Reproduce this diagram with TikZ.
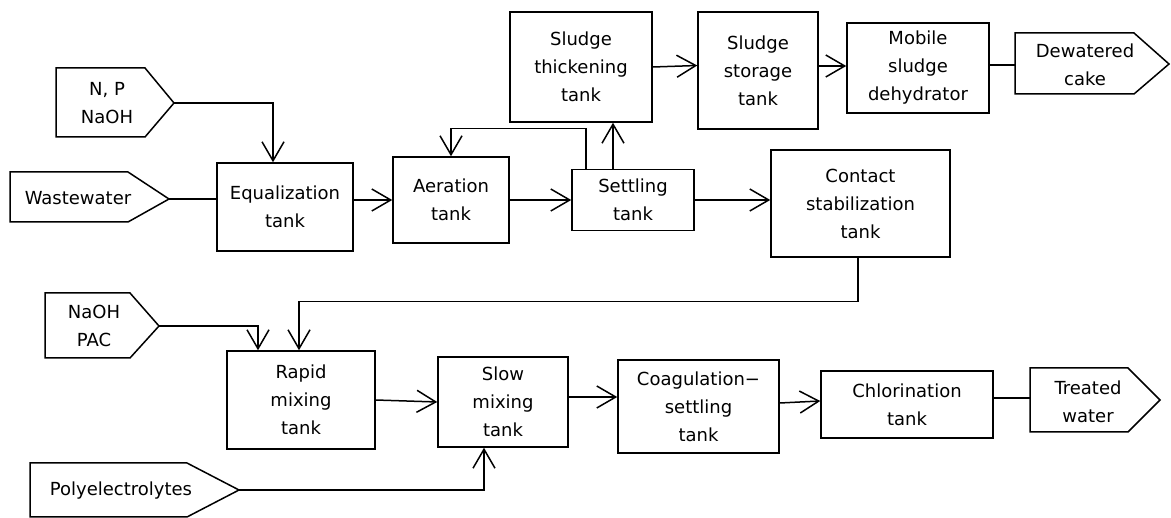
\documentclass[tikz,border=0pt]{standalone}
\usepackage{fontspec}
\setmainfont{DejaVu Sans}
\usetikzlibrary{arrows.meta}
\begin{document}
\begin{tikzpicture}[x=1pt,y=-1pt,
  every node/.style={font=\fontsize{18}{28}\selectfont, align=center, inner sep=0pt},
  tankbox/.style n args={2}{draw, line width=1.5pt, minimum width=#1pt, minimum height=#2pt},
  pent/.style={draw, line width=1.5pt, line join=miter},
  wire/.style={line width=1.5pt},
  arr/.style={-{Straight Barb[length=19pt,width=22pt]}}]
\useasboundingbox (0,0) rectangle (1171,518);

% input / output pentagons
\draw[pent] (56,68) -- (145,68) -- (174,103) -- (145,137) -- (56,137) -- cycle;
\coordinate (nptip) at (174,103);
\node (np) at (107,103) {N, P\\NaOH};

\draw[pent] (10,172) -- (128,172) -- (169,199) -- (128,222) -- (10,222) -- cycle;
\coordinate (wwtip) at (169,199);
\node (ww) at (78,198) {Wastewater};

\draw[pent] (45,293) -- (130,293) -- (159,326) -- (130,358) -- (45,358) -- cycle;
\coordinate (naohtip) at (159,326);
\node (naoh) at (94,326) {NaOH\\PAC};

\draw[pent] (30,463) -- (187,463) -- (239,490) -- (187,517) -- (30,517) -- cycle;
\coordinate (polytip) at (239,490);
\node (poly) at (121,491) {Polyelectrolytes};

\draw[pent] (1015,33) -- (1134,33) -- (1169,64) -- (1134,94) -- (1015,94) -- cycle;
\coordinate (dewin) at (1015,65);
\node (dew) at (1085,65) {Dewatered\\cake};

\draw[pent] (1030,368) -- (1128,368) -- (1160,400) -- (1128,432) -- (1030,432) -- cycle;
\coordinate (trin) at (1030,398);
\node (tr) at (1088,402) {Treated\\water};

% tanks
\node[tankbox={136}{88}] (eq) at (285,207) {Equalization\\tank};
\node[tankbox={116}{86}] (aer) at (451,200) {Aeration\\tank};
\node[tankbox={122}{61}] (set) at (633,200) {Settling\\tank};
\node[tankbox={142}{110}] (thick) at (581,67) {Sludge\\thickening\\tank};
\node[tankbox={120}{117}] (stor) at (758,70.5) {Sludge\\storage\\tank};
\node[tankbox={142}{90}] (mob) at (918,68) {Mobile\\sludge\\dehydrator};
\node[tankbox={179}{107}] (cont) at (860.5,203.5) {Contact\\stabilization\\tank};
\node[tankbox={148}{98}] (rapid) at (301,400) {Rapid\\mixing\\tank};
\node[tankbox={130}{90}] (slow) at (503,402) {Slow\\mixing\\tank};
\node[tankbox={161}{93}] (coag) at (698.5,406.5) {Coagulation−\\settling\\tank};
\node[tankbox={172}{67}] (chlor) at (907,404.5) {Chlorination\\tank};

% connectors
\draw[wire,arr] (nptip) -| ([xshift=-12pt]eq.north);
\draw[wire] (wwtip) -- (wwtip -| eq.west);
\draw[wire,arr] (eq.east |- aer.west) -- (aer.west);
\draw[wire,arr] (aer.east) -- (aer.east -| set.west);
\draw[wire,arr] (set.east) -- (set.east -| cont.west);
\draw[wire,arr] ([xshift=-20pt]set.north) -- ([xshift=-20pt]set.north |- thick.south);
\draw[wire,arr] ([xshift=-47pt]set.north) -- ++(0,-40) -| (aer.north);
\draw[wire,arr] (thick.east) -- ([yshift=1.5pt]thick.east -| stor.west);
\draw[wire,arr] ([yshift=2pt]mob.west -| stor.east) -- ([yshift=2pt]mob.west);
\draw[wire] (mob.east |- dewin) -- (dewin);
\draw[wire,arr] ([xshift=-2.5pt]cont.south) -- ++(0,44) -| ([xshift=-2pt]rapid.north);
\draw[wire,arr] (naohtip) -| ([xshift=-43pt]rapid.north);
\draw[wire,arr] (rapid.east) -- (slow.west);
\draw[wire,arr] (polytip) -| ([xshift=-19pt]slow.south);
\draw[wire,arr] ([yshift=5pt]slow.east) -- ([yshift=5pt]slow.east -| coag.west);
\draw[wire,arr] ([yshift=3.5pt]coag.east) -- ([yshift=3.5pt]chlor.west);
\draw[wire] (chlor.east |- trin) -- (trin);
\end{tikzpicture}
\end{document}
